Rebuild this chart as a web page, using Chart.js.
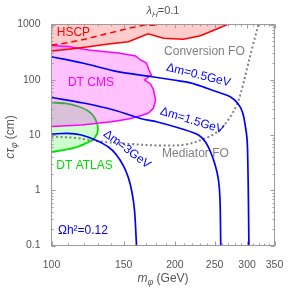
<!DOCTYPE html>
<html><head><meta charset="utf-8">
<script src="https://cdn.jsdelivr.net/npm/chart.js@4.4.1/dist/chart.umd.min.js"></script>
<style>html,body{margin:0;padding:0;background:#fff}#w{width:300px;height:289px;position:relative}</style>
</head><body><div id="w"><canvas id="c"></canvas></div>
<script>
// ---- axis ticks ----
const xTicks = [100,150,200,250,300,350];
const xTickLabels = ['100','150','200','250','300','350'];
const yTicks = [0.1,1,10,100,1000];
const yTickLabels = ['0.1','1','10','100','1000'];

// ---- HSCP region (lower boundary, solid) ----
const hscpM    = [100,110,123.1,137.7,154.1,172,187.6,209.9,231,268.7];
const hscpCtau = [331,356,396,444,488,680,562,540,627,1000];
// ---- HSCP dashed ----
const hscpDashM    = [100,110,123.1,137.7,154.1,169.3,183];
const hscpDashCtau = [425,469,562,693,854,980,960];
// ---- DT CMS region ----
const cmsM    = [100,110,123.1,145.7,160.3,164.9,170.5,172.9,175.3,168.6,174.4,177.4,179.4,177.4,172.4,165.8,154.1,140.1,118.3,100];
const cmsCtau = [417,400,345,305,269,228,201,150,122,98.9,83.8,65.2,43,30.8,25,22.5,19.5,17.4,15.2,14.3];
// ---- DT ATLAS region ----
const atlasM    = [100,108.2,116.4,122.4,126.6,129.1,129.8,129.1,126.2,121.7,116.4,109.4,100];
const atlasCtau = [38.7,37.2,32.8,27.8,22.1,16.5,13.1,10.4,8.29,7.17,6.19,5.47,4.92];
// ---- relic density contours ----
const dm05M    = [100,119.7,144.9,174.4,198.4,218.4,240.2,258.5,273.5,284.3,292.3,297.3,300.1,301.2,302.3,303.1];
const dm05Ctau = [261,199,140,114.5,98.9,88,69.5,57.5,48.7,37.9,26.1,14.1,8.12,3.53,0.667,0.1];
const dm15M    = [100,119.7,143.3,164.9,181.4,206.5,228.3,237.5,244.4,251.2,255.5,257.6,258.8];
const dm15Ctau = [47.7,37.9,27.8,19.9,17.2,13.1,10.0,7.47,4.92,2.75,1.53,0.725,0.1];
const dm3M     = [100,109.4,118.3,128.0,137.7,144.1,149.8,154.1,157.1,159.4,161.2];
const dm3Ctau  = [10.4,10.7,10.0,8.12,6.06,4.35,2.75,1.67,0.929,0.44,0.1];
// ---- freeze-out boundary (Mediator FO / Conversion FO) ----
const foM    = [100,114.4,131.7,155.9,184.5,212.3,234.9,255.5,271.8,284.3,292.3,300.6,309.2,319.8];
const foCtau = [9.4,8.83,7.63,6.87,6.46,6.73,8.47,11.8,20.3,37.9,73.9,170,392,1000];

// ---- in-plot labels (anchor in data units) ----
const annText = ['HSCP','DT CMS','DT ATLAS','Conversion FO','Mediator FO','Ωh²=0.12','Δm=0.5GeV','Δm=1.5GeV','Δm=3GeV'];
const annM    = [113.1,124.8,120.4,236.1,224.5,119.3,228.3,220.1,152.8];
const annCtau = [710,87.3,2.75,322,4.67,0.183,121,18.2,5.5];

// ---- styles ----
const FF = '"Liberation Sans", Arial, sans-serif';
const annStyle = [
  {c:'#ff0000', r:0}, {c:'#ff00ff', r:0}, {c:'#00dd00', r:0},
  {c:'#808080', r:0}, {c:'#808080', r:0}, {c:'#0000ff', r:0},
  {c:'#0000ff', r:14}, {c:'#0000ff', r:17}, {c:'#0000ff', r:37}
];
const pts = (xs, ys) => xs.map((v, i) => ({x: v, y: ys[i]}));
const closeTop = (xs, ys) => pts(xs, ys).concat([{x: 100, y: 1000}]);

const specs = [
  {data: closeTop(hscpM, hscpCtau), fill: 'shape', backgroundColor: 'rgba(255,0,0,0.2)', borderWidth: 0, borderColor: 'rgba(0,0,0,0)'},
  {data: pts(atlasM, atlasCtau), fill: 'shape', backgroundColor: 'rgba(0,255,0,0.2)', borderColor: '#00e000', borderWidth: 1.8, tension: 0.3},
  {data: pts(cmsM, cmsCtau), fill: 'shape', backgroundColor: 'rgba(255,0,255,0.24)', borderColor: '#ff00ff', borderWidth: 1.5},
  {data: pts(hscpM, hscpCtau), borderColor: '#ff0000', borderWidth: 1.5},
  {data: pts(hscpDashM, hscpDashCtau), borderColor: '#ff0000', borderWidth: 1.5, borderDash: [6,4]},
  {data: pts(foM, foCtau), borderColor: '#808080', borderWidth: 2, borderDash: [2,2.5], tension: 0.35},
  {data: pts(dm05M, dm05Ctau), borderColor: '#0000ff', borderWidth: 1.7, tension: 0.35},
  {data: pts(dm15M, dm15Ctau), borderColor: '#0000ff', borderWidth: 1.7, tension: 0.35},
  {data: pts(dm3M, dm3Ctau), borderColor: '#0000ff', borderWidth: 1.7, tension: 0.35}
];
const datasets = specs.map((s, i) => Object.assign({showLine: true, fill: false, pointRadius: 0, tension: 0, order: specs.length - i}, s));

function drawParts(ctx, parts, x, y) {
  let w = 0;
  parts.forEach(p => { ctx.font = p.f; w += ctx.measureText(p.t).width; });
  let cx = x - w / 2;
  parts.forEach(p => { ctx.font = p.f; ctx.fillText(p.t, cx, y + (p.dy || 0)); cx += ctx.measureText(p.t).width; });
}

const decor = {
  id: 'decor',
  afterDatasetsDraw(chart) {
    const {ctx, chartArea: a, scales: {x, y}} = chart;
    ctx.save();
    ctx.strokeStyle = '#9c9c9c'; ctx.lineWidth = 1;
    const xMinor = [], yMinor = [];
    for (let v = 110; v < 350; v += 10) if (v % 50) xMinor.push(v);
    [0.1,1,10,100].forEach(d => { for (let k = 2; k <= 9; k++) yMinor.push(d * k); });
    ctx.beginPath();
    const xt = (v, L) => { const p = Math.round(x.getPixelForValue(v)) + 0.5; ctx.moveTo(p, a.bottom); ctx.lineTo(p, a.bottom - L); ctx.moveTo(p, a.top); ctx.lineTo(p, a.top + L); };
    const yt = (v, L) => { const p = Math.round(y.getPixelForValue(v)) + 0.5; ctx.moveTo(a.left, p); ctx.lineTo(a.left + L, p); ctx.moveTo(a.right, p); ctx.lineTo(a.right - L, p); };
    xTicks.forEach(v => xt(v, 4)); xMinor.forEach(v => xt(v, 2));
    yTicks.forEach(v => yt(v, 4)); yMinor.forEach(v => yt(v, 2));
    ctx.stroke();
    ctx.strokeRect(a.left, a.top, a.right - a.left, a.bottom - a.top);

    // in-plot labels
    ctx.textAlign = 'center'; ctx.textBaseline = 'middle';
    annText.forEach((t, i) => {
      const px = x.getPixelForValue(annM[i]), py = y.getPixelForValue(annCtau[i]);
      ctx.save();
      ctx.translate(px, py); ctx.rotate(annStyle[i].r * Math.PI / 180);
      ctx.fillStyle = annStyle[i].c; ctx.font = '12px ' + FF;
      ctx.fillText(t, 0, 0);
      ctx.restore();
    });

    // title and axis titles
    ctx.textAlign = 'left'; ctx.textBaseline = 'alphabetic'; ctx.fillStyle = '#555';
    const cx = (a.left + a.right) / 2;
    drawParts(ctx, [{t:'λ', f:'italic 11px ' + FF}, {t:'H', f:'italic 8px ' + FF, dy: 2.5}, {t:'=0.1', f:'11px ' + FF}], cx, 14);
    drawParts(ctx, [{t:'m', f:'italic 12px ' + FF}, {t:'φ', f:'italic 9px ' + FF, dy: 3}, {t:' (GeV)', f:'12px ' + FF}], cx, 281.5);
    ctx.save();
    ctx.translate(14, (a.top + a.bottom) / 2 + 2); ctx.rotate(-Math.PI / 2);
    drawParts(ctx, [{t:'cτ', f:'italic 12px ' + FF}, {t:'φ', f:'italic 9px ' + FF, dy: 3}, {t:' (cm)', f:'12px ' + FF}], 0, 0);
    ctx.restore();
    ctx.restore();
  }
};

new Chart(document.getElementById('c'), {
  type: 'scatter',
  data: {datasets},
  options: {
    responsive: true, maintainAspectRatio: false, animation: false, devicePixelRatio: 1,
    layout: {padding: {left: 0, right: 25.5, top: 24.5, bottom: 0}},
    plugins: {legend: {display: false}, tooltip: {enabled: false}, title: {display: false}},
    scales: {
      x: {
        type: 'logarithmic', min: 100, max: 350,
        afterFit: s => { s.height = 43.5; },
        afterBuildTicks: s => { s.ticks = xTicks.map(v => ({value: v})); },
        ticks: {autoSkip: false, maxRotation: 0, padding: 5, color: '#555', font: {family: FF, size: 10.5},
          callback: v => xTickLabels[xTicks.indexOf(v)]},
        grid: {display: false}, border: {display: false}
      },
      y: {
        type: 'logarithmic', min: 0.1, max: 1000,
        afterFit: s => { s.width = 51.5; },
        afterBuildTicks: s => { s.ticks = yTicks.map(v => ({value: v})); },
        ticks: {autoSkip: false, padding: 3, color: '#555', font: {family: FF, size: 10.5},
          callback: v => yTickLabels[yTicks.indexOf(v)]},
        grid: {display: false}, border: {display: false}
      }
    }
  },
  plugins: [decor]
});
</script>
</body></html>
